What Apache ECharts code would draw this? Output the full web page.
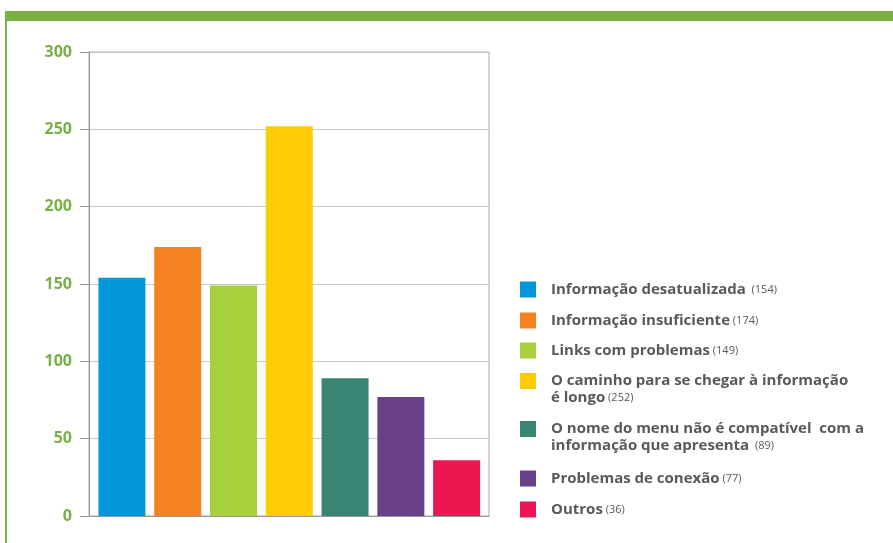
<!DOCTYPE html>
<html><head><meta charset="utf-8">
<script src="https://cdn.jsdelivr.net/npm/echarts@6/dist/echarts.min.js"></script>
<style>html,body{margin:0;padding:0;background:#fff}#c{width:893px;height:543px}</style>
</head><body><div id="c"></div>
<script>
const categories = [
  'Informação desatualizada',
  'Informação insuficiente',
  'Links com problemas',
  'O caminho para se chegar à informação\né longo',
  'O nome do menu não é compatível  com a\ninformação que apresenta',
  'Problemas de conexão',
  'Outros'
];
const values = [154, 174, 149, 252, 89, 77, 36];
const numberSuffix = ['  ', ' ', ' ', ' ', '  ', ' ', ' '];
const colors = ['#0096d9', '#f58220', '#a8cf3c', '#ffcb05', '#3a8474', '#6a4189', '#ee1651'];
const yTicks = [0, 50, 100, 150, 200, 250, 300];
const legendIconTops = [281, 312, 342, 373, 421, 470, 501];

const chart = echarts.init(document.getElementById('c'));
const font = '"Open Sans", "Liberation Sans", sans-serif';

const series = categories.map((name, i) => ({
  type: 'bar',
  name: name,
  data: [[i, values[i]]],
  barWidth: 47,
  barGap: '-100%',
  itemStyle: { color: colors[i] },
  silent: true
}));

const legends = categories.map((name, i) => {
  const multi = name.indexOf('\n') >= 0;
  return {
    data: [name],
    orient: 'vertical',
    left: 520,
    top: multi ? legendIconTops[i] - 17.5 : legendIconTops[i],
    padding: 0,
    itemWidth: 16,
    itemHeight: 16,
    icon: 'rect',
    selectedMode: false,
    formatter: function (n) {
      const idx = categories.indexOf(n);
      const lines = n.split('\n');
      const head = lines.slice(0, -1).map(l => '{b|' + l + '}').join('\n');
      const last = '{b|' + lines[lines.length - 1] + '}' + numberSuffix[idx] + '{n|(' + values[idx] + ')}';
      return (head ? head + '\n' : '') + last;
    },
    textStyle: {
      fontFamily: font,
      color: '#58595b',
      fontSize: 11,
      lineHeight: 17,
      padding: multi ? [17, 0, 0, 10] : [0, 0, 0, 10],
      rich: {
        b: { fontFamily: font, fontWeight: 'bold', fontSize: 15, color: '#58595b', lineHeight: 17 },
        n: { fontFamily: font, fontSize: 11, color: '#58595b', lineHeight: 17 }
      }
    }
  };
});

chart.setOption({
  animation: false,
  backgroundColor: '#fff',
  graphic: [
    { type: 'rect', shape: { x: 5, y: 11, width: 888, height: 10 }, style: { fill: '#7ab042' } },
    { type: 'rect', shape: { x: 5, y: 11, width: 2, height: 532 }, style: { fill: '#7ab042' } }
  ],
  grid: { left: 89, right: 404, top: 52, bottom: 27, show: true, borderColor: '#aaaaaa', borderWidth: 1 },
  legend: legends,
  xAxis: {
    type: 'value', min: -0.59, max: 6.58,
    axisLine: { show: true, onZero: false, lineStyle: { color: '#999999' } },
    axisTick: { show: false }, axisLabel: { show: false }, splitLine: { show: false }
  },
  yAxis: {
    type: 'value', min: yTicks[0], max: yTicks[yTicks.length - 1], interval: 50,
    axisLine: { show: true, onZero: false, lineStyle: { color: '#999999' } },
    axisTick: { show: true, length: 9, lineStyle: { color: '#999999' } },
    splitLine: { lineStyle: { color: '#c8c8c8' } },
    axisLabel: { margin: 17, color: '#77b144', fontWeight: 'bold', fontSize: 16, fontFamily: font }
  },
  series: series
});
</script>
</body></html>
